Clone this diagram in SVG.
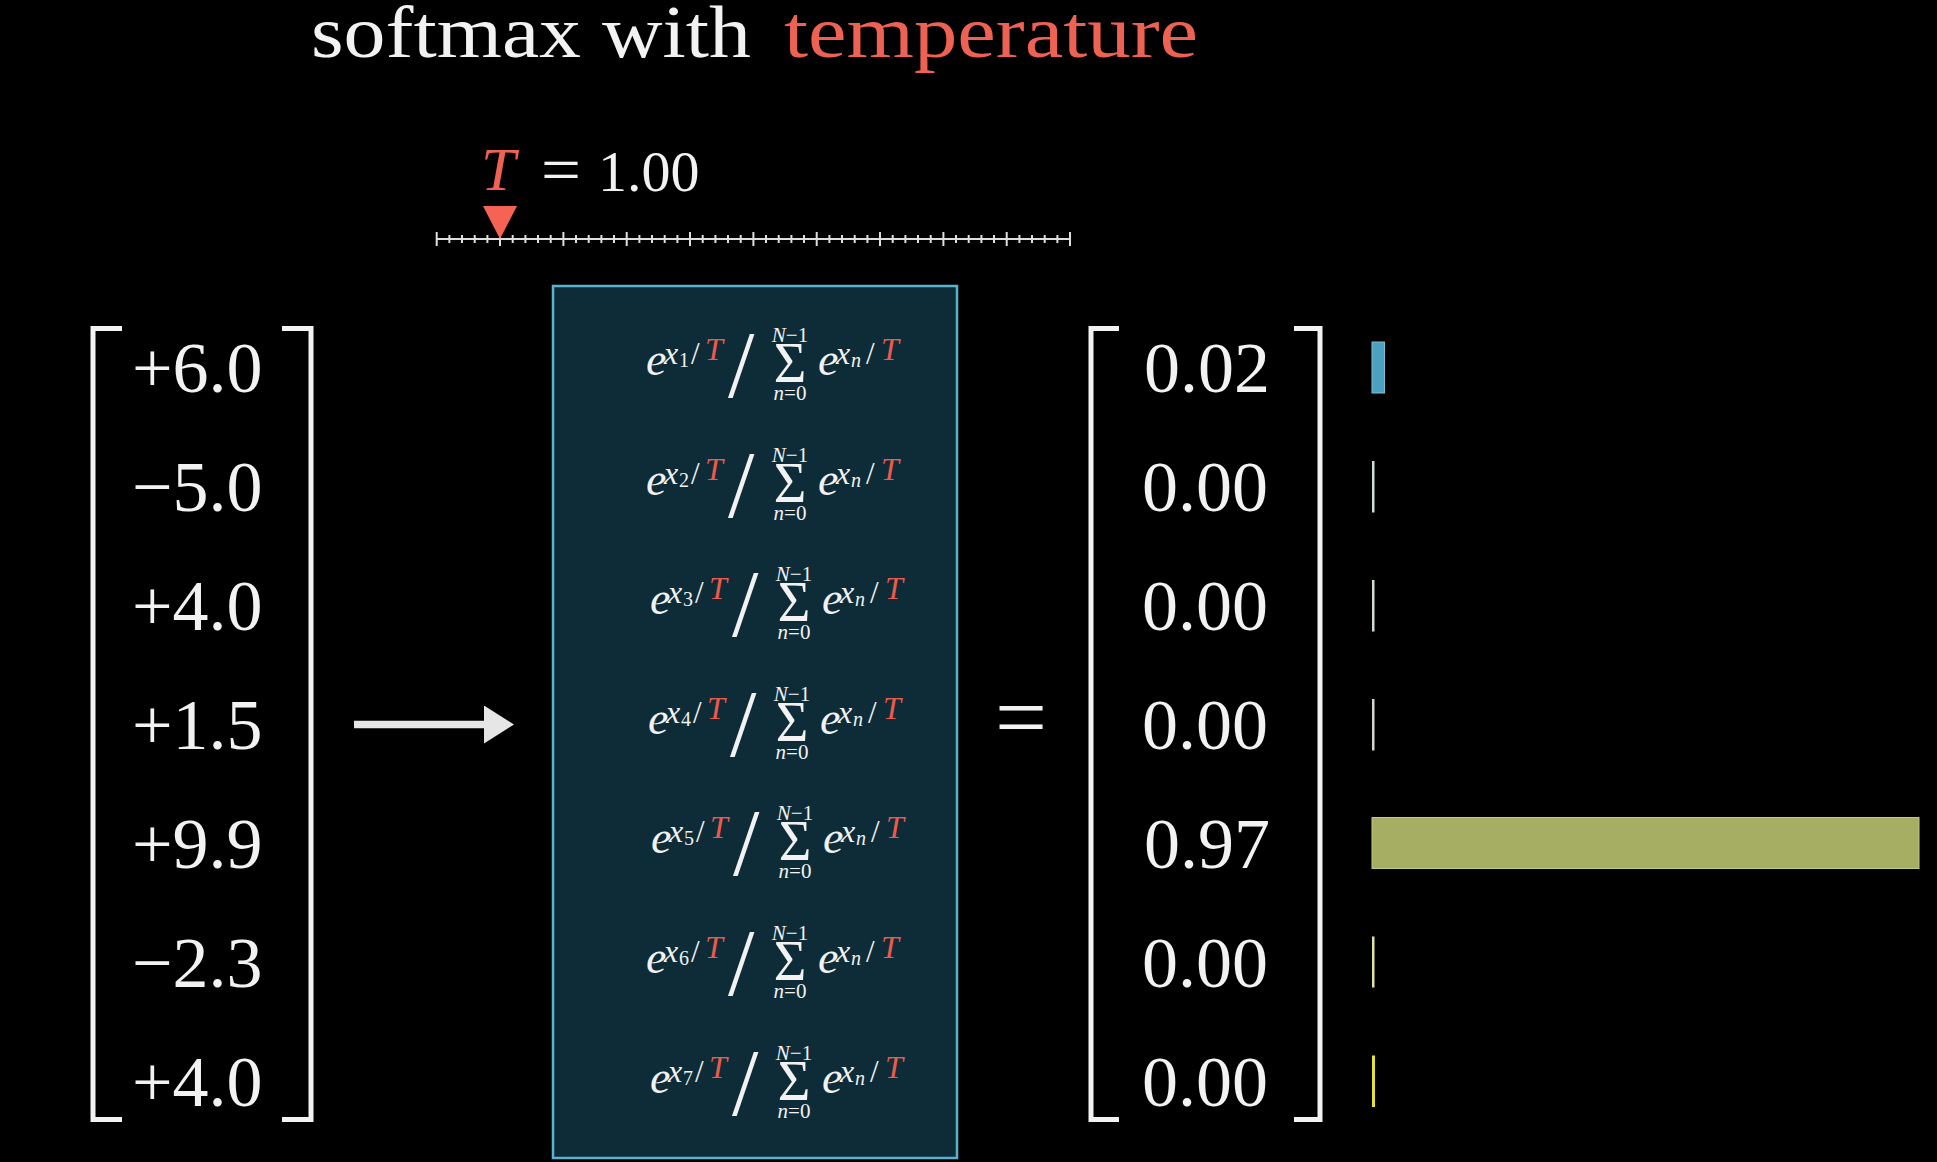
<svg xmlns="http://www.w3.org/2000/svg" width="1937" height="1162" viewBox="0 0 1937 1162">
<style>
text{font-family:"Liberation Serif","DejaVu Serif",serif;fill:#f2f2f2}
.red{fill:#ee6254}
.it{font-style:italic}
.num{font-size:72px}
.fe{font-size:46px;font-style:italic}
.fs{font-size:32px;font-style:italic}
.fsl{font-size:31px}
.fss{font-size:20px}
.fT{font-size:32px;font-style:italic;fill:#ec5a4c}
.big{font-size:95px}
.lim{font-size:21px}
.sig{font-size:56px}
.br{fill:none;stroke:#f2f2f2;stroke-width:5;stroke-linejoin:miter}
.tick{fill:none;stroke:#dedede;stroke-width:2}
</style>
<defs>
<marker id="ah" viewBox="0 0 30 38" refX="0" refY="19" markerWidth="30" markerHeight="38" markerUnits="userSpaceOnUse" orient="auto">
<path d="M0,0 L30,19 L0,38 Z" fill="#e6e6e6"/>
</marker>
<g id="formula">
<text class="fs" x="664" y="364">x</text>
<text class="fsl" x="691" y="364">/</text>
<text class="fT" x="705" y="360">T</text>
<text class="big" x="728" y="397">/</text>
<text class="lim" x="790" y="342" text-anchor="middle"><tspan class="it">N</tspan>−1</text>
<text class="sig" x="790" y="382" text-anchor="middle">Σ</text>
<text class="lim" x="790" y="400" text-anchor="middle"><tspan class="it">n</tspan>=0</text>
<text class="fe" x="818" y="375">e</text>
<text class="fs" x="836" y="364">x</text>
<text class="fss it" x="851" y="367">n</text>
<text class="fsl" x="866" y="364">/</text>
<text class="fT" x="881" y="360">T</text>
<text class="fe" x="646" y="375">e</text>
</g>
</defs>
<rect x="0" y="0" width="1937" height="1162" fill="#000"/>

<g id="title">
<text x="311" y="57" font-size="75" textLength="440" lengthAdjust="spacingAndGlyphs">softmax with</text>
<text x="784" y="57" font-size="75" class="red" textLength="414" lengthAdjust="spacingAndGlyphs">temperature</text>
</g>

<g id="temperature-slider">
<text x="481" y="190" font-size="62" class="red it">T</text>
<text x="541" y="192" font-size="66" textLength="40" lengthAdjust="spacingAndGlyphs">=</text>
<text x="598" y="191" font-size="58">1.00</text>
<line x1="436.7" y1="239" x2="1070" y2="239" stroke="#dedede" stroke-width="2"/>
<path class="tick" d="M436.7,232V246M500,232V246M563.4,232V246M626.7,232V246M690,232V246M753.4,232V246M816.7,232V246M880,232V246M943.4,232V246M1006.7,232V246M1070,232V246"/>
<path class="tick" d="M449.4,235V243M462,235V243M474.7,235V243M487.4,235V243M512.7,235V243M525.4,235V243M538,235V243M550.7,235V243M576,235V243M588.7,235V243M601.4,235V243M614,235V243M639.4,235V243M652,235V243M664.7,235V243M677.4,235V243M702.7,235V243M715.4,235V243M728,235V243M740.7,235V243M766,235V243M778.7,235V243M791.4,235V243M804,235V243M829.4,235V243M842,235V243M854.7,235V243M867.4,235V243M892.7,235V243M905.4,235V243M918,235V243M930.7,235V243M956,235V243M968.7,235V243M981.4,235V243M994,235V243M1019.4,235V243M1032,235V243M1044.7,235V243M1057.4,235V243"/>
<path d="M483,206 L517,206 L500,239 Z" fill="#f56354"/>
</g>

<g id="input-vector">
<path class="br" d="M122,328.5H93V1119.5H122"/>
<path class="br" d="M282,328.5H311V1119.5H282"/>
<text class="num" x="132" y="392">+6.0</text>
<text class="num" x="132" y="511">−5.0</text>
<text class="num" x="132" y="630">+4.0</text>
<text class="num" x="132" y="749">+1.5</text>
<text class="num" x="132" y="868">+9.9</text>
<text class="num" x="132" y="987">−2.3</text>
<text class="num" x="132" y="1106">+4.0</text>
</g>

<g id="connectors">
<line x1="354" y1="724.5" x2="484" y2="724.5" stroke="#e6e6e6" stroke-width="7.6" marker-end="url(#ah)"/>
</g>

<g id="softmax-box">
<rect x="553" y="286" width="404" height="872" fill="#0d2c38" stroke="#5ab2cc" stroke-width="2.5"/>
<g transform="translate(0,0)"><use href="#formula"/><text class="fss" x="679" y="367">1</text></g>
<g transform="translate(0,119.6)"><use href="#formula"/><text class="fss" x="679" y="367">2</text></g>
<g transform="translate(4,239.2)"><use href="#formula"/><text class="fss" x="679" y="367">3</text></g>
<g transform="translate(2,358.8)"><use href="#formula"/><text class="fss" x="679" y="367">4</text></g>
<g transform="translate(5,478.4)"><use href="#formula"/><text class="fss" x="679" y="367">5</text></g>
<g transform="translate(0,598)"><use href="#formula"/><text class="fss" x="679" y="367">6</text></g>
<g transform="translate(4,717.6)"><use href="#formula"/><text class="fss" x="679" y="367">7</text></g>
</g>

<g id="equals">
<text x="995" y="748" font-size="90" textLength="52" lengthAdjust="spacingAndGlyphs">=</text>
</g>

<g id="output-vector">
<path class="br" d="M1119,328.5H1091V1119.5H1119"/>
<path class="br" d="M1294,328.5H1320V1119.5H1294"/>
<text class="num" x="1207" y="392" text-anchor="middle">0.02</text>
<text class="num" x="1205" y="511" text-anchor="middle">0.00</text>
<text class="num" x="1205" y="630" text-anchor="middle">0.00</text>
<text class="num" x="1205" y="749" text-anchor="middle">0.00</text>
<text class="num" x="1207" y="868" text-anchor="middle">0.97</text>
<text class="num" x="1205" y="987" text-anchor="middle">0.00</text>
<text class="num" x="1205" y="1106" text-anchor="middle">0.00</text>
</g>

<g id="bars">
<rect x="1372" y="342" width="12.5" height="51" fill="#4aa2c0" stroke="#7cc0d6" stroke-width="1"/>
<rect x="1372" y="461" width="2.5" height="51.5" fill="#c8e0d6"/>
<rect x="1372" y="580" width="2.5" height="51.5" fill="#cfdccf"/>
<rect x="1372" y="699" width="2.5" height="51.5" fill="#d2d6cc"/>
<rect x="1372" y="817.5" width="547" height="51" fill="#a5ae62" stroke="#c3c97a" stroke-width="1"/>
<rect x="1372" y="936.5" width="2.5" height="51" fill="#e2e49a"/>
<rect x="1372" y="1055.5" width="3" height="51.5" fill="#e4e42c"/>
</g>
</svg>
